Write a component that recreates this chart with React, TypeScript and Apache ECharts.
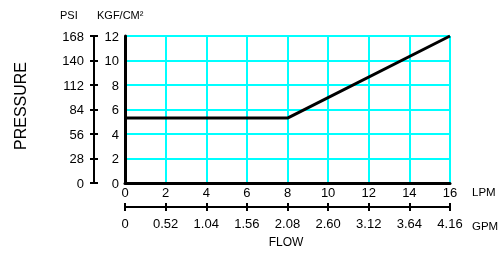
import React, { useEffect, useRef } from "react";
import * as echarts from "echarts";

const flowLpm = [0, 8, 16];
const pressureKgf = [5.3, 5.3, 12];
const gpmLabels = ["0", "0.52", "1.04", "1.56", "2.08", "2.60", "3.12", "3.64", "4.16"];
const lpmRange = [0, 16, 2];
const kgfRange = [0, 12, 2];
const psiRange = [0, 168, 28];

const FONT = "Liberation Sans, Arial, sans-serif";

export default function App() {
  const ref = useRef<HTMLDivElement>(null);
  useEffect(() => {
    if (!ref.current) return;
    const chart = echarts.init(ref.current, null, { renderer: "svg" });
    const labelStyle = { color: "#000", fontFamily: FONT, fontSize: 13 };
    const gridBox = { left: 125, top: 36, width: 325, height: 147, containLabel: false };
    const psiAxisBase = {
      type: "value",
      position: "left",
      offset: 31,
      min: psiRange[0],
      max: psiRange[1],
      interval: psiRange[2],
      splitLine: { show: false },
      axisLine: { show: true, onZero: false, lineStyle: { color: "#000", width: 2 } },
    };
    const gpmAxisBase = {
      type: "category",
      position: "bottom",
      offset: 24,
      data: gpmLabels,
      boundaryGap: false,
      splitLine: { show: false },
      axisLine: { show: true, onZero: false, lineStyle: { color: "#000", width: 2 } },
    };
    chart.setOption({
      animation: false,
      grid: [gridBox, { ...gridBox }],
      xAxis: [
        {
          type: "value",
          gridIndex: 0,
          position: "bottom",
          min: lpmRange[0],
          max: lpmRange[1],
          interval: lpmRange[2],
          axisLine: { show: true, onZero: false, lineStyle: { color: "#000", width: 3 } },
          axisTick: { show: false },
          axisLabel: { ...labelStyle, margin: 3 },
          splitLine: { show: true, lineStyle: { color: "#00FFFF", width: 2 } },
          z: 3,
        },
        {
          ...gpmAxisBase,
          gridIndex: 0,
          axisTick: { show: true, length: 4, interval: 0, lineStyle: { color: "#000", width: 2 } },
          axisLabel: { ...labelStyle, margin: 10, interval: 0 },
        },
        {
          ...gpmAxisBase,
          gridIndex: 1,
          axisTick: { show: true, inside: true, length: 4, interval: 0, lineStyle: { color: "#000", width: 2 } },
          axisLabel: { show: false },
        },
      ],
      yAxis: [
        {
          type: "value",
          gridIndex: 0,
          position: "left",
          min: kgfRange[0],
          max: kgfRange[1],
          interval: kgfRange[2],
          axisLine: { show: true, onZero: false, lineStyle: { color: "#000", width: 3 } },
          axisTick: { show: false },
          axisLabel: { ...labelStyle, margin: 6 },
          splitLine: { show: true, lineStyle: { color: "#00FFFF", width: 2 } },
          z: 3,
        },
        {
          ...psiAxisBase,
          gridIndex: 0,
          axisTick: { show: true, length: 4, lineStyle: { color: "#000", width: 2 } },
          axisLabel: { ...labelStyle, margin: 10 },
        },
        {
          ...psiAxisBase,
          gridIndex: 1,
          axisTick: { show: true, inside: true, length: 4, lineStyle: { color: "#000", width: 2 } },
          axisLabel: { show: false },
        },
      ],
      series: [
        {
          type: "line",
          xAxisIndex: 0,
          yAxisIndex: 0,
          data: flowLpm.map((x, i) => [x, pressureKgf[i]]),
          showSymbol: false,
          symbol: "none",
          clip: false,
          lineStyle: { color: "#000", width: 3 },
          z: 5,
        },
      ],
      graphic: [
        { type: "text", left: 60, top: 9, style: { text: "PSI", font: `11px ${FONT}`, fill: "#000" } },
        { type: "text", left: 97, top: 9, style: { text: "KGF/CM²", font: `11px ${FONT}`, fill: "#000" } },
        {
          type: "text",
          x: 20,
          y: 106,
          rotation: Math.PI / 2,
          style: { text: "PRESSURE", font: `16px ${FONT}`, fill: "#000", align: "center", verticalAlign: "middle" },
        },
        { type: "text", x: 472, y: 192, style: { text: "LPM", font: `11.5px ${FONT}`, fill: "#000", verticalAlign: "middle" } },
        { type: "text", x: 472, y: 226, style: { text: "GPM", font: `11.5px ${FONT}`, fill: "#000", verticalAlign: "middle" } },
        { type: "text", x: 286, y: 242, style: { text: "FLOW", font: `12px ${FONT}`, fill: "#000", align: "center", verticalAlign: "middle" } },
      ],
    });
    return () => chart.dispose();
  }, []);
  return <div ref={ref} style={{ position: "fixed", left: 0, top: 0, width: 499, height: 253 }} />;
}
